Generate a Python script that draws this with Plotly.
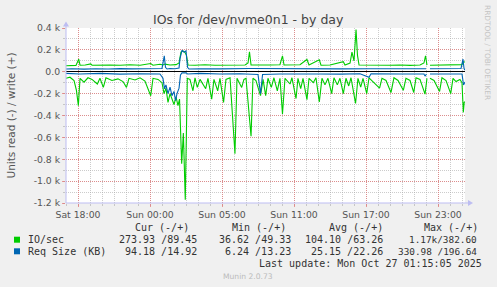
import plotly.graph_objects as go

# Time axis: hours since Sat 18:00 (local time, DST change at Sun 03:00)
# (hour, value) samples
IO_WRITE = [(-1.0, 55), (-0.5, 60), (-0.17, 58), (0.06, 115), (0.17, 60), (0.6, 62), (1.06, 72), (1.17, 60),
            (1.83, 58), (2.67, 62), (3.5, 60), (4.33, 64), (5.17, 60), (6.06, 75), (6.25, 60), (6.83, 68),
            (7.08, 62), (7.25, 70), (7.67, 62), (8.17, 65), (8.42, 80), (8.58, 180), (8.75, 190), (8.92, 175),
            (9.04, 150), (9.17, 62), (9.75, 60), (10.58, 64), (11.42, 60), (12.25, 62), (13.08, 58), (13.92, 62),
            (14.17, 80), (14.29, 183), (14.42, 62), (15.17, 60), (16.0, 62), (16.83, 64), (17.04, 146), (17.17, 62),
            (18.17, 60), (18.5, 64), (19.08, 112), (19.25, 62), (20.11, 110), (20.25, 60), (21.0, 62), (22.11, 92),
            (22.25, 62), (22.67, 80), (22.83, 180), (23.0, 100), (23.17, 385), (23.29, 150), (23.42, 62), (24.33, 60),
            (25.17, 64), (26.0, 60), (26.83, 62), (27.67, 58), (28.5, 62), (28.83, 80), (28.96, 146), (29.08, 60),
            (29.21, None), (29.33, 60), (30.17, 62), (31.0, 58), (31.83, 60), (32.0, 65), (32.08, 90), (32.25, 89)]

IO_READ = [(-1.0, 60), (-0.67, 50), (-0.33, 80), (-0.13, 170), (0.03, 310), (0.17, 60), (0.5, 95), (0.83, 55),
           (1.17, 70), (1.61, 112), (1.83, 60), (2.11, 143), (2.33, 55), (2.83, 80), (3.33, 65), (3.75, 90),
           (4.04, 143), (4.25, 60), (4.75, 75), (5.17, 55), (5.58, 85), (6.06, 219), (6.25, 60), (6.67, 70),
           (7.0, 100), (7.17, 200), (7.33, 150), (7.5, 280), (7.67, 200), (7.83, 260), (8.0, 300), (8.17, 230),
           (8.33, 310), (8.46, 250), (8.64, 840), (8.78, 560), (8.94, 1170), (9.11, 60), (9.33, 70), (9.58, 174),
           (9.75, 55), (9.94, 143), (10.17, 70), (10.64, 155), (10.83, 60), (11.14, 250), (11.33, 70), (11.64, 174),
           (11.83, 60), (12.13, 280), (12.33, 70), (12.67, 55), (13.08, 750), (13.25, 60), (13.64, 143), (13.83, 70),
           (14.0, 60), (14.42, 590), (14.58, 60), (14.83, 80), (15.21, 219), (15.42, 70), (15.64, 219), (15.83, 60),
           (16.11, 143), (16.33, 55), (16.61, 174), (16.83, 60), (17.04, 385), (17.25, 60), (17.67, 112), (17.83, 55),
           (18.17, 245), (18.33, 60), (18.56, 155), (18.75, 60), (19.08, 255), (19.25, 60), (19.61, 100), (19.83, 55),
           (20.11, 275), (20.33, 60), (20.58, 120), (20.83, 60), (21.14, 200), (21.33, 55), (21.61, 120), (21.83, 60),
           (22.11, 200), (22.33, 60), (22.56, 130), (22.75, 55), (23.13, 290), (23.33, 60), (23.56, 140), (23.75, 60),
           (24.06, 200), (24.25, 55), (24.58, 90), (25.13, 150), (25.33, 60), (25.67, 80), (26.08, 190), (26.33, 55),
           (26.67, 80), (27.11, 170), (27.33, 60), (27.67, 80), (27.98, 190), (28.17, 55), (28.5, 70), (28.92, 204),
           (29.08, 60), (29.21, None), (29.33, 60), (29.67, 80), (30.13, 180), (30.33, 55), (30.67, 80), (31.06, 200),
           (31.25, 60), (31.5, 90), (31.83, 70), (32.0, 100), (32.11, 371), (32.18, 280), (32.25, 274)]

REQ_WRITE = [(-1.0, 25), (-0.5, 28), (0.5, 24), (1.5, 28), (2.5, 25), (3.5, 29), (4.5, 26), (5.5, 28), (6.5, 25),
             (7.0, 30), (7.19, 146), (7.29, 40), (7.42, 25), (7.67, 30), (8.08, 28), (8.42, 35), (8.5, 120),
             (8.67, 197), (8.83, 180), (9.0, 190), (9.13, 40), (9.25, 25), (10.17, 28), (11.83, 26), (14.33, 30),
             (16.83, 27), (19.33, 28), (21.83, 26), (24.33, 28), (26.83, 30), (29.0, 28), (29.21, None), (29.33, 27),
             (31.0, 28), (31.92, 30), (32.08, 116), (32.17, 30), (32.25, 15)]

REQ_READ = [(-1.0, 15), (0.17, 20), (1.83, 15), (3.5, 22), (5.17, 18), (6.83, 20), (7.08, 60), (7.21, 156),
            (7.33, 120), (7.5, 200), (7.67, 140), (7.83, 219), (8.0, 180), (8.13, 265), (8.25, 200), (8.42, 150),
            (8.54, 30), (8.67, 10), (9.0, 10), (9.13, 20), (10.17, 15), (11.83, 20), (13.5, 18), (15.0, 25),
            (15.21, 200), (15.38, 25), (16.83, 20), (18.5, 18), (20.17, 20), (21.83, 22), (23.5, 18), (24.25, 50),
            (24.42, 18), (26.83, 20), (28.83, 20), (28.92, 40), (29.04, 20), (29.21, None), (29.33, 20), (31.0, 18),
            (32.0, 20), (32.13, 120), (32.25, 94)]

X_TICK_VALS = [0, 6, 12, 18, 24, 30]
X_TICK_TEXT = ["Sat 18:00", "Sun 00:00", "Sun 05:00", "Sun 11:00", "Sun 17:00", "Sun 23:00"]
Y_TICK_VALS = [400, 200, 0, -200, -400, -600, -800, -1000, -1200]
Y_TICK_TEXT = ["0.4 k", "0.2 k", "0.0", "-0.2 k", "-0.4 k", "-0.6 k", "-0.8 k", "-1.0 k", "-1.2 k"]

LEGEND_NAMES = ["IO/sec", "Req Size (KB)"]
LEGEND_COLORS = ["#00CC00", "#0066B3"]
LEGEND_CUR = ["273.93 /89.45", "94.18 /14.92"]
LEGEND_MIN = ["36.62 /49.33", "6.24 /13.23"]
LEGEND_AVG = ["104.10 /63.26", "25.15 /22.26"]
LEGEND_MAX = ["1.17k/382.60", "330.98 /196.64"]
HEADERS = ["Cur (-/+)", "Min (-/+)", "Avg (-/+)", "Max (-/+)"]

W, H = 497, 287
L, R, T, B = 66, 465, 28, 203


def px(x):
    return (x - L) / (R - L)


def py(y):
    return (B - y) / (B - T)


def unzip(pairs, sign=1):
    xs = [p[0] for p in pairs]
    ys = [None if p[1] is None else sign * p[1] for p in pairs]
    return xs, ys


fig = go.Figure()
for pairs, sign, color in [(IO_READ, -1, "#00CC00"), (IO_WRITE, 1, "#00CC00"),
                           (REQ_READ, -1, "#0066B3"), (REQ_WRITE, 1, "#0066B3")]:
    xs, ys = unzip(pairs, sign)
    fig.add_trace(go.Scatter(x=xs, y=ys, mode="lines", line=dict(color=color, width=1.1),
                             showlegend=False, hoverinfo="skip"))

MGRID = "rgba(225,120,120,0.75)"
GRID = "rgba(170,170,170,0.6)"
AXIS = "#BDBDF2"

fig.update_layout(
    width=W, height=H,
    margin=dict(l=L, r=W - R, t=T, b=H - B),
    paper_bgcolor="#F0F0F0", plot_bgcolor="#FFFFFF",
    showlegend=False,
    font=dict(family="DejaVu Sans", size=9.3, color="#555555"),
)
fig.update_xaxes(
    range=[-1.0, 32.25], tickmode="array", tickvals=X_TICK_VALS, ticktext=X_TICK_TEXT,
    showgrid=True, gridcolor=MGRID, griddash="1px,1px", gridwidth=1,
    minor=dict(dtick=1, tick0=0, showgrid=True, gridcolor=GRID, griddash="1px,1px", gridwidth=1,
               ticks="outside", ticklen=2, tickcolor=GRID),
    ticks="outside", ticklen=3, tickcolor=MGRID,
    showline=False, zeroline=False, tickfont=dict(size=9.3, color="#555555"),
)
fig.update_yaxes(
    range=[-1200, 400], tickmode="array", tickvals=Y_TICK_VALS, ticktext=Y_TICK_TEXT,
    showgrid=True, gridcolor=MGRID, griddash="1px,1px", gridwidth=1,
    minor=dict(dtick=100, tick0=0, showgrid=True, gridcolor=GRID, griddash="1px,1px", gridwidth=1,
               ticks="outside", ticklen=2, tickcolor=GRID),
    ticks="outside", ticklen=3, tickcolor=MGRID,
    showline=False, zeroline=True, zerolinecolor="#000000", zerolinewidth=1,
    tickfont=dict(size=9.3, color="#555555"),
)

shapes = []
# axis lines with arrows
shapes.append(dict(type="line", xref="paper", yref="paper", x0=px(L), x1=px(468), y0=py(B), y1=py(B),
                   line=dict(color=AXIS, width=1)))
shapes.append(dict(type="line", xref="paper", yref="paper", x0=px(L), x1=px(L), y0=py(B), y1=py(26),
                   line=dict(color=AXIS, width=1)))
shapes.append(dict(type="path", xref="paper", yref="paper",
                   path=f"M {px(468)} {py(200)} L {px(473)} {py(B)} L {px(468)} {py(206)} Z",
                   fillcolor=AXIS, line=dict(color=AXIS, width=0)))
shapes.append(dict(type="path", xref="paper", yref="paper",
                   path=f"M {px(63)} {py(26.5)} L {px(L)} {py(21.5)} L {px(69)} {py(26.5)} Z",
                   fillcolor=AXIS, line=dict(color=AXIS, width=0)))

annotations = []


def text(x, y, s, size, color, anchor="left", family="DejaVu Sans Mono", angle=0):
    annotations.append(dict(x=px(x), y=py(y), xref="paper", yref="paper", text=s, showarrow=False,
                            xanchor=anchor, yanchor="middle", borderpad=0, textangle=angle,
                            font=dict(family=family, size=size, color=color)))


# title and side texts
text(248, 19.5, "IOs for /dev/nvme0n1 - by day", 12.5, "#444444", "center", "DejaVu Sans")
text(10, 115.5, "Units read (-) / write (+)", 10.5, "#555555", "center", "DejaVu Sans", -90)
text(488, 52, "RRDTOOL / TOBI OETIKER", 7.4, "#C4C4C4", "center", "DejaVu Sans", 90)
text(248, 276, "Munin 2.0.73", 7.6, "#BBBBBB", "center", "DejaVu Sans")

# legend table
TXT = "#333333"
for hx, h in zip([134, 231, 328, 423], HEADERS):
    text(hx, 227, h, 10, TXT)
rows_y = [239.7, 251.3]
for i in range(2):
    yy = rows_y[i]
    shapes.append(dict(type="rect", xref="paper", yref="paper", x0=px(14), x1=px(20), y0=py(yy - 3), y1=py(yy + 3),
                       fillcolor=LEGEND_COLORS[i], line=dict(width=0)))
    text(26.5, yy, LEGEND_NAMES[i], 10, TXT)
    text(197.5, yy, LEGEND_CUR[i], 10, TXT, "right")
    text(291.5, yy, LEGEND_MIN[i], 10, TXT, "right")
    text(383.5, yy, LEGEND_AVG[i], 10, TXT, "right")
    text(477.5, yy, LEGEND_MAX[i], 9.4, TXT, "right")
text(483, 263.7, "Last update: Mon Oct 27 01:15:05 2025", 10, TXT, "right")

fig.update_layout(shapes=shapes, annotations=annotations)
fig.write_html("out.html")
